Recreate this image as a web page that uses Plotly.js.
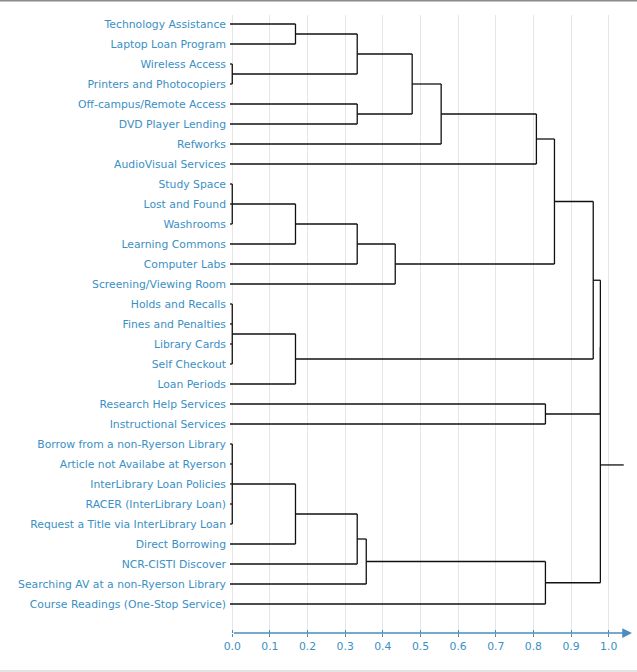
<!DOCTYPE html>
<html>
<head>
<meta charset="utf-8">
<script src="https://cdn.plot.ly/plotly-3.0.1.min.js"></script>
<style>html,body{margin:0;padding:0;background:#fff;}#chart{width:637px;height:672px;}</style>
</head>
<body>
<div id="chart"></div>
<script>
// Leaves (top to bottom)
const leaves = [
  "Technology Assistance", "Laptop Loan Program", "Wireless Access", "Printers and Photocopiers",
  "Off-campus/Remote Access", "DVD Player Lending", "Refworks", "AudioVisual Services",
  "Study Space", "Lost and Found", "Washrooms", "Learning Commons", "Computer Labs",
  "Screening/Viewing Room", "Holds and Recalls", "Fines and Penalties", "Library Cards",
  "Self Checkout", "Loan Periods", "Research Help Services", "Instructional Services",
  "Borrow from a non-Ryerson Library", "Article not Availabe at Ryerson",
  "InterLibrary Loan Policies", "RACER (InterLibrary Loan)",
  "Request a Title via InterLibrary Loan", "Direct Borrowing", "NCR-CISTI Discover",
  "Searching AV at a non-Ryerson Library", "Course Readings (One-Stop Service)"
];
// Merges: children ids (0..29 = leaves, 30+k = merge k) and merge heights
const mergeChildren = [
  [2, 3], [0, 1], [31, 30], [4, 5], [32, 33], [34, 6], [35, 7],
  [8, 9, 10], [37, 11], [38, 12], [39, 13], [36, 40],
  [14, 15, 16, 17], [42, 18], [41, 43],
  [19, 20], [44, 45],
  [21, 22, 23, 24, 25], [47, 26], [48, 27], [49, 28], [50, 29],
  [46, 51]
];
const mergeHeights = [
  0.0, 0.168, 0.332, 0.332, 0.478, 0.555, 0.808,
  0.0, 0.168, 0.332, 0.433, 0.856,
  0.0, 0.168, 0.959,
  0.832, 0.978,
  0.0, 0.168, 0.332, 0.356, 0.832,
  0.978
];
const xTicks = [0, 0.1, 0.2, 0.3, 0.4, 0.5, 0.6, 0.7, 0.8, 0.9, 1.0];

const LEAF_START = -0.006, ROOT_END = 1.04;
const nL = leaves.length;
const posY = [], posX = [];
for (let i = 0; i < nL; i++) { posY[i] = i; posX[i] = LEAF_START; }
const xs = [], ys = [];
mergeChildren.forEach((ch, k) => {
  const id = nL + k, h = mergeHeights[k];
  const cy = ch.map(c => posY[c]);
  posY[id] = cy.reduce((a, b) => a + b, 0) / cy.length;
  posX[id] = h;
  xs.push(h, h, null); ys.push(Math.min(...cy), Math.max(...cy), null);
  ch.forEach(c => { xs.push(posX[c], h, null); ys.push(posY[c], posY[c], null); });
});
const root = nL + mergeChildren.length - 1;
xs.push(posX[root], ROOT_END, null); ys.push(posY[root], posY[root], null);

const blue = '#3b8fc4', axisBlue = '#4a8dbd';
const yRange = [30.45, -0.45];
const data = [
  {x: xs, y: ys, type: 'scatter', mode: 'lines', line: {color: '#111', width: 1.3},
   hoverinfo: 'skip', showlegend: false, cliponaxis: false},
  {x: [0, 1], y: [null, null], xaxis: 'x2', type: 'scatter', mode: 'lines', showlegend: false, hoverinfo: 'skip'}
];
const layout = {
  width: 637, height: 672,
  margin: {l: 230, r: 5, t: 15, b: 39},
  paper_bgcolor: '#fff', plot_bgcolor: '#fff',
  showlegend: false,
  font: {family: 'DejaVu Sans', size: 10.8, color: blue},
  xaxis: {
    range: [LEAF_START, 1.062], tickvals: xTicks, ticktext: xTicks.map(v => v.toFixed(1)),
    showgrid: true, gridcolor: '#e6e6e6', gridwidth: 1, zeroline: false, showline: false,
    ticks: 'outside', ticklen: 3, tickcolor: axisBlue, tickwidth: 1,
    tickfont: {family: 'DejaVu Sans', size: 10.8, color: blue}, fixedrange: true
  },
  xaxis2: {
    overlaying: 'x', matches: 'x', side: 'bottom', anchor: 'y',
    tickvals: xTicks, showticklabels: false, showgrid: false, zeroline: false, showline: false,
    ticks: 'inside', ticklen: 3, tickcolor: axisBlue, tickwidth: 1
  },
  yaxis: {
    range: yRange, tickvals: leaves.map((_, i) => i), ticktext: leaves,
    showgrid: false, zeroline: false, showline: false, ticks: '',
    tickfont: {family: 'DejaVu Sans', size: 10.8, color: blue}, ticklabelstandoff: 3, fixedrange: true
  },
  shapes: [
    {type: 'line', xref: 'paper', yref: 'paper', x0: -0.6, x1: 1.2, y0: 1.0235, y1: 1.0235,
     line: {color: '#8a8a8a', width: 2}},
    {type: 'line', xref: 'paper', yref: 'paper', x0: -0.6, x1: 1.2, y0: -0.0615, y1: -0.0615,
     line: {color: '#e3e3e3', width: 2}}
  ],
  annotations: [
    {x: 1.062, y: yRange[0], xref: 'x', yref: 'y', ax: 0, ay: yRange[0], axref: 'x', ayref: 'y',
     showarrow: true, arrowhead: 2, arrowsize: 1.3, arrowwidth: 1.5, arrowcolor: axisBlue, text: ''}
  ]
};
Plotly.newPlot('chart', data, layout, {displayModeBar: false, staticPlot: true});
</script>
</body>
</html>
